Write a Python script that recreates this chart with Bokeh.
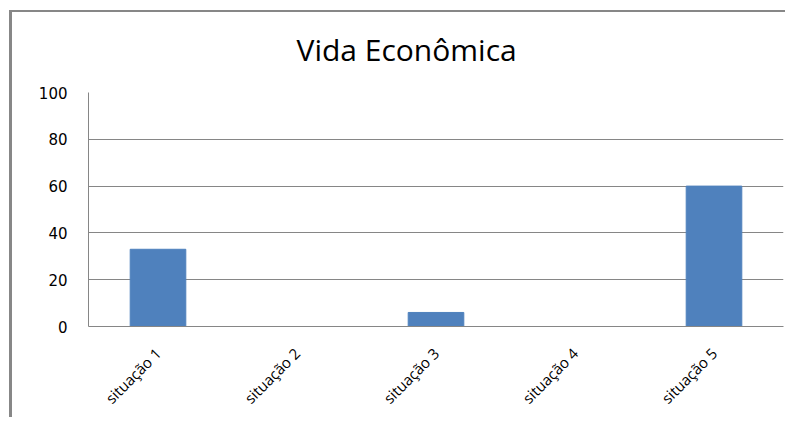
import math
from bokeh.plotting import figure
from bokeh.models import ColumnDataSource, FactorRange, Range1d, FixedTicker, InlineStyleSheet
from bokeh.embed import file_html
from bokeh.resources import INLINE

categories = ["situação 1", "situação 2", "situação 3", "situação 4", "situação 5"]
values = [33, 0, 6, 0, 60]
y_ticks = [0, 20, 40, 60, 80, 100]
title_text = "Vida Econômica"

BAR = "#4F81BD"
GRID = "#868686"

source = ColumnDataSource(data=dict(cat=categories, val=values))

p = figure(
    width=785, height=417,
    x_range=FactorRange(*categories, range_padding=0),
    y_range=Range1d(0, 100),
    output_backend="svg", toolbar_location=None,
    min_border_left=88, min_border_right=2, min_border_top=92, min_border_bottom=90,
)
p.x_range.range_padding = 0
p.outline_line_color = None
p.background_fill_color = "white"
p.border_fill_color = "white"

p.vbar(x="cat", top="val", width=0.4, source=source, fill_color=BAR, line_color=BAR)

p.title.text = title_text
p.title.text_font = "Open Sans"
p.title.text_font_style = "normal"
p.title.text_font_size = "30px"
p.title.text_color = "#000000"
p.title.align = "left"
p.title.offset = 208
p.title.standoff = 45

p.yaxis.ticker = FixedTicker(ticks=y_ticks)
p.yaxis.axis_line_color = GRID
p.yaxis.major_tick_line_color = None
p.yaxis.minor_tick_line_color = None
p.yaxis.major_tick_out = 0
p.yaxis.major_tick_in = 0
p.yaxis.major_label_standoff = 21
p.yaxis.major_label_text_font = "DejaVu Sans"
p.yaxis.major_label_text_font_size = "15px"
p.yaxis.major_label_text_color = "#000000"

p.xaxis.axis_line_color = GRID
p.xaxis.major_tick_line_color = None
p.xaxis.minor_tick_line_color = None
p.xaxis.major_tick_out = 0
p.xaxis.major_tick_in = 0
p.xaxis.major_label_orientation = math.pi / 4
p.xaxis.major_label_standoff = 24
p.xaxis.major_label_text_font = "Open Sans"
p.xaxis.major_label_text_font_size = "15px"
p.xaxis.major_label_text_color = "#000000"

p.xgrid.grid_line_color = None
p.ygrid.grid_line_color = GRID
p.ygrid.grid_line_width = 1
p.ygrid.ticker = FixedTicker(ticks=y_ticks)

p.stylesheets = [InlineStyleSheet(css="""
:host { overflow: hidden; }
:host::after {
  content: "";
  position: absolute;
  left: 9px; top: 10px; right: -20px; bottom: -20px;
  border-left: 3px solid #878787;
  border-top: 2px solid #878787;
  border-right: none;
  border-bottom: none;
  pointer-events: none;
  z-index: 10;
}
""")]

open("out.html", "w").write(file_html(p, INLINE))
